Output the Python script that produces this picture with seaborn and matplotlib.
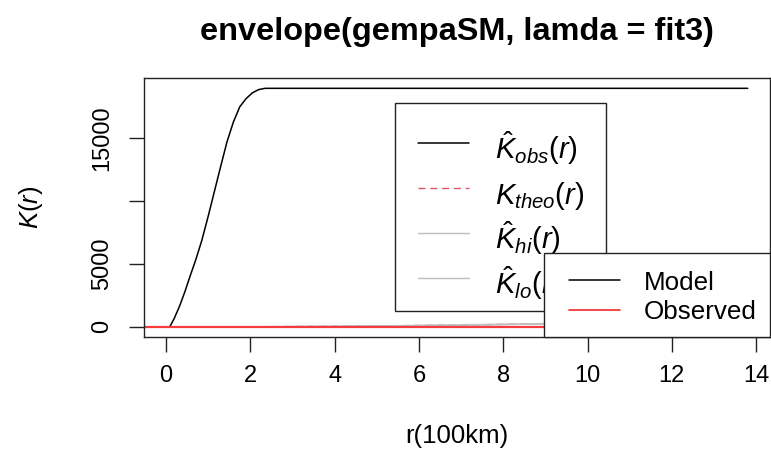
import matplotlib
matplotlib.use('Agg')
import matplotlib.pyplot as plt
from matplotlib.lines import Line2D
from matplotlib.patches import Rectangle
import pandas as pd
import seaborn as sns

# valores
r_obs = [0.0, 0.09, 0.2, 0.33, 0.45, 0.57, 0.7, 0.85, 1.0, 1.15, 1.3, 1.45, 1.6,
         1.75, 1.9, 2.05, 2.2, 2.35, 13.8]
k_obs = [0, 0, 700, 1700, 2800, 4000, 5250, 6850, 8750, 10750, 12750, 14700, 16250,
         17450, 18100, 18560, 18820, 18920, 18920]

r_env = [0, 1, 2, 3, 4, 5, 6, 7, 8, 9, 10, 11, 12, 13, 13.8]
k_theo = [0, 3, 13, 28, 50, 79, 113, 154, 201, 254, 314, 380, 452, 531, 598]
k_hi = [0, 3, 14, 30, 53, 83, 119, 162, 211, 267, 330, 399, 475, 558, 628]
k_lo = [0, 2, 11, 25, 45, 71, 102, 139, 181, 229, 283, 342, 407, 478, 538]

observed_level = 0

x_ticks = [0, 2, 4, 6, 8, 10, 12, 14]
y_ticks = [0, 5000, 10000, 15000]
y_tick_labels = ['0', '5000', '', '15000']

legend1_labels = [r'$\hat{K}_{obs}(r)$', r'$K_{theo}(r)$',
                  r'$\hat{K}_{hi}(r)$', r'$\hat{K}_{lo}(r)$']
legend2_labels = ['Model', 'Observed']

sns.set_style('ticks', rc={'text.color': 'black', 'axes.labelcolor': 'black',
                           'xtick.color': 'black', 'ytick.color': 'black'})
plt.rcParams['font.family'] = ['Liberation Sans', 'DejaVu Sans']
plt.rcParams['mathtext.fontset'] = 'custom'
plt.rcParams['mathtext.rm'] = 'Liberation Sans'
plt.rcParams['mathtext.it'] = 'Liberation Sans:italic'
plt.rcParams['mathtext.bf'] = 'Liberation Sans:bold'

df_obs = pd.DataFrame({'r': r_obs, 'K': k_obs})
df_env = pd.DataFrame({'r': r_env, 'theo': k_theo, 'hi': k_hi, 'lo': k_lo})

fig = plt.figure(figsize=(7.71, 4.5), dpi=100)
ax = fig.add_axes([0.1868, 0.2511, 0.812, 0.5756])

c_obs = 'black'
c_theo = '#DF536B'
c_env = '#BEBEBE'
c_red = '#F53B3B'
dash = (0, (5, 3.5))

sns.lineplot(data=df_obs, x='r', y='K', ax=ax, color=c_obs, lw=1.1)
sns.lineplot(data=df_env, x='r', y='theo', ax=ax, color=c_theo, lw=1.0, linestyle=dash)
sns.lineplot(data=df_env, x='r', y='hi', ax=ax, color=c_env, lw=1.0)
sns.lineplot(data=df_env, x='r', y='lo', ax=ax, color=c_env, lw=1.0)
ax.axhline(observed_level, color=c_red, lw=1.6)

ax.set_xlim(-0.52, 14.33)
ax.set_ylim(-800, 19740)
ax.set_xticks(x_ticks)
ax.set_yticks(y_ticks)
ax.set_yticklabels(y_tick_labels)
plt.setp(ax.get_yticklabels(), rotation=90, va='center')
ax.tick_params(axis='both', direction='out', length=11, width=1.0,
               color='#222222', labelsize=17)
ax.tick_params(axis='x', pad=9.5)
ax.tick_params(axis='y', pad=11)
for s in ax.spines.values():
    s.set_visible(True)
    s.set_linewidth(1.0)
    s.set_color('#222222')

ax.set_xlabel('r(100km)', fontsize=18.5)
ax.xaxis.set_label_coords(0.5, -0.335)
ax.xaxis.label.set_va('top')
ax.set_ylabel(r'$K(r)$', fontsize=18.5)
ax.yaxis.set_label_coords(-0.158, 0.5)
ax.set_title('envelope(gempaSM, lamda = fit3)', fontsize=23.4, fontweight='bold', pad=27)

# leyenda 1 (caja dibujada a mano para fijar su tamaño)
rect1 = Rectangle((0.401, 0.1015), 0.337, 0.8005, transform=ax.transAxes,
                  facecolor='white', edgecolor='#222222', lw=1.0, zorder=6)
ax.add_patch(rect1)
h1 = [Line2D([], [], color=c_obs, lw=1.1),
      Line2D([], [], color=c_theo, lw=1.0, linestyle=dash),
      Line2D([], [], color=c_env, lw=1.0),
      Line2D([], [], color=c_env, lw=1.0)]
leg1 = ax.legend(h1, legend1_labels, loc='center left', bbox_to_anchor=(0.4377, 0.463),
                 frameon=False, fontsize=21, handlelength=1.75, handletextpad=0.9,
                 handleheight=2.0, labelspacing=0.0, borderpad=0, borderaxespad=0)
leg1.set_zorder(7)
ax.add_artist(leg1)

# leyenda 2
rect2 = Rectangle((0.639, 0.0), 0.361, 0.325, transform=ax.transAxes,
                  facecolor='white', edgecolor='#222222', lw=1.0, zorder=8, clip_on=False)
ax.add_patch(rect2)
h2 = [Line2D([], [], color=c_obs, lw=1.1), Line2D([], [], color=c_red, lw=1.3)]
leg2 = ax.legend(h2, legend2_labels, loc='center left', bbox_to_anchor=(0.679, 0.153),
                 frameon=False, fontsize=18.7, handlelength=1.96, handletextpad=0.92,
                 labelspacing=0.22, borderpad=0, borderaxespad=0)
leg2.set_zorder(9)

fig.savefig('out.png', dpi=100)
